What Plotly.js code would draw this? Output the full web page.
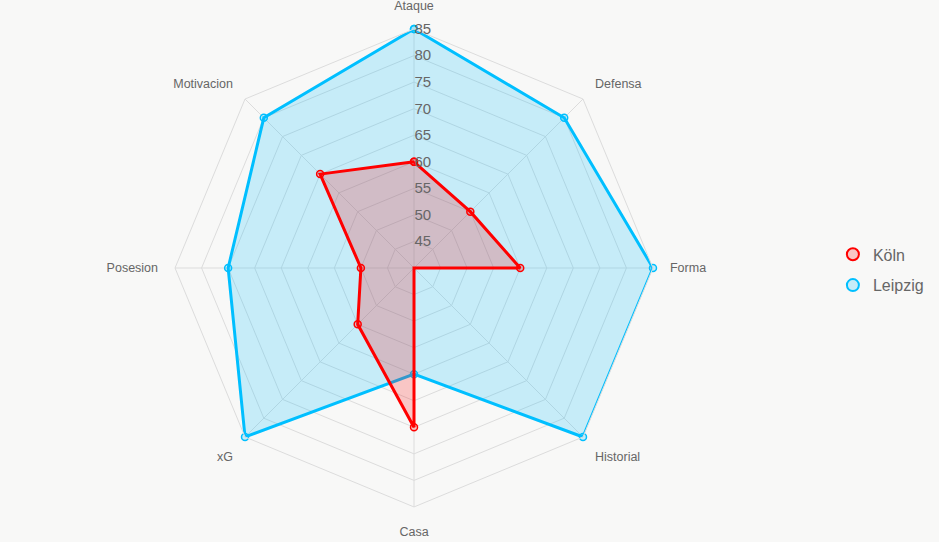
<!DOCTYPE html>
<html>
<head>
<meta charset="utf-8">
<script src="https://cdn.plot.ly/plotly-3.0.1.min.js"></script>
<style>
html,body{margin:0;padding:0;background:#f8f8f7;}
#chart{width:939px;height:542px;}
</style>
</head>
<body>
<div id="chart"></div>
<script>
const categories = ["Ataque", "Defensa", "Forma", "Historial", "Casa", "xG", "Posesion", "Motivacion"];
const seriesNames = ["Köln", "Leipzig"];
const kolnValues = [60, 55, 60, 40, 70, 55, 50, 65];
const leipzigValues = [85, 80, 85, 85, 60, 85, 75, 80];
const radialTicks = [45, 50, 55, 60, 65, 70, 75, 80, 85];

const lineColors = ["rgb(255,0,0)", "rgb(0,191,255)"];
const fillColors = ["rgba(255,0,0,0.2)", "rgba(0,191,255,0.2)"];
const allValues = [kolnValues, leipzigValues];

const closeLoop = arr => arr.concat([arr[0]]);

const traces = [];
// draw Leipzig first so Köln sits on top
[1, 0].forEach(i => {
  const vals = allValues[i];
  traces.push({
    type: "scatterpolar",
    r: closeLoop(vals),
    theta: closeLoop(categories),
    name: seriesNames[i],
    mode: "lines+markers",
    fill: "toself",
    fillcolor: fillColors[i],
    line: {color: lineColors[i], width: 3},
    marker: {size: 7, color: fillColors[i], line: {color: lineColors[i], width: 1.5}},
    showlegend: false,
    hoverinfo: "skip"
  });
});
// legend proxies
[0, 1].forEach(i => {
  traces.push({
    type: "scatterpolar",
    r: [null],
    theta: [null],
    name: seriesNames[i],
    legendgroup: "g" + i,
    mode: "markers",
    marker: {size: 15, color: fillColors[i], line: {color: lineColors[i], width: 1.5}},
    showlegend: true
  });
});

const layout = {
  width: 939,
  height: 542,
  paper_bgcolor: "#f8f8f7",
  plot_bgcolor: "#f8f8f7",
  margin: {l: 0, r: 0, t: 0, b: 0},
  font: {family: "Arial, 'Liberation Sans', sans-serif", color: "#666"},
  showlegend: true,
  legend: {
    x: 0.887, y: 0.502, xanchor: "left", yanchor: "middle",
    font: {size: 16, color: "#666"},
    bgcolor: "rgba(0,0,0,0)",
    itemsizing: "constant",
    tracegroupgap: 7
  },
  polar: {
    domain: {x: [0.1864, 0.6954], y: [0.0646, 0.9465]},
    bgcolor: "rgba(0,0,0,0)",
    gridshape: "linear",
    radialaxis: {
      range: [40, 85],
      tickvals: radialTicks,
      angle: 90,
      tickangle: 90,
      showline: false,
      ticks: "",
      gridcolor: "#dcdcdc",
      gridwidth: 1,
      tickfont: {size: 15, color: "#666"}
    },
    angularaxis: {
      direction: "clockwise",
      rotation: 90,
      gridcolor: "#dcdcdc",
      linecolor: "#dcdcdc",
      showline: true,
      ticks: "outside",
      ticklen: 14,
      tickcolor: "rgba(0,0,0,0)",
      tickfont: {size: 12.5, color: "#666"}
    }
  }
};

Plotly.newPlot("chart", traces, layout, {displayModeBar: false, staticPlot: true});
</script>
</body>
</html>
